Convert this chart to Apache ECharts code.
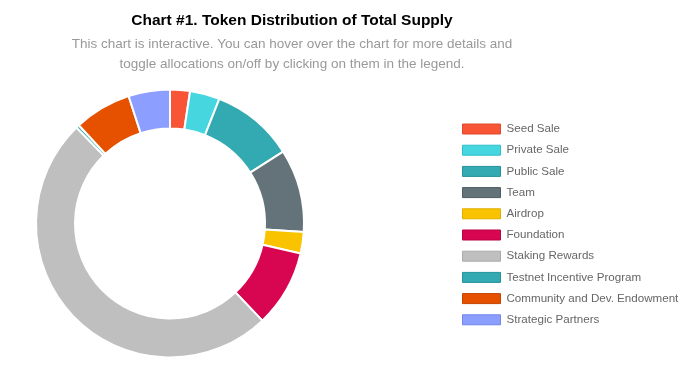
<!DOCTYPE html>
<html><head><meta charset="utf-8">
<script src="https://cdn.jsdelivr.net/npm/echarts@6/dist/echarts.min.js"></script>
<style>html,body{margin:0;padding:0;background:#fff}#c{width:700px;height:390px}</style>
</head><body><div id="c"></div>
<script>
const categories = ["Seed Sale","Private Sale","Public Sale","Team","Airdrop","Foundation","Staking Rewards","Testnet Incentive Program","Community and Dev. Endowment","Strategic Partners"];
const values = [2.4, 3.6, 10, 10, 2.6, 9.3, 49.8, 0.4, 6.9, 5.0];
const colors = ["#f75535","#45d6e0","#33aab2","#647279","#f9c300","#d80650","#bfbfbf","#33aab2","#e65100","#8c9eff"];
const borders = ["#e04a2c","#2fc0ca","#24929a","#4e5b61","#e0ae00","#b80443","#aaaaaa","#24929a","#c44500","#7285e6"];

const chart = echarts.init(document.getElementById('c'));
chart.setOption({
  animation: false,
  title: {
    text: "Chart #1. Token Distribution of Total Supply",
    subtext: "This chart is interactive. You can hover over the chart for more details and\ntoggle allocations on/off by clicking on them in the legend.",
    left: 287, top: 8, textAlign: 'center', itemGap: 6,
    textStyle: {fontFamily: 'Liberation Sans', fontSize: 15.5, fontWeight: 'bold', color: '#000'},
    subtextStyle: {fontFamily: 'Liberation Sans', fontSize: 13.5, color: '#999', lineHeight: 19.5, align: 'center'}
  },
  legend: {
    orient: 'vertical', left: 462, top: 123, padding: 0,
    itemWidth: 38, itemHeight: 10, itemGap: 9.2,
    icon: 'rect',
    textStyle: {fontFamily: 'Liberation Sans', fontSize: 11.6, color: '#666', padding: [0,0,0,1]},
    data: categories.map((n, i) => ({name: n, itemStyle: {color: colors[i], borderColor: borders[i], borderWidth: 1}}))
  },
  series: [{
    type: 'pie',
    center: [170, 223.5],
    radius: [95, 134],
    startAngle: 90,
    clockwise: true,
    label: {show: false},
    labelLine: {show: false},
    itemStyle: {borderColor: '#fff', borderWidth: 2},
    data: categories.map((n, i) => ({name: n, value: values[i], itemStyle: {color: colors[i]}}))
  }]
});
</script></body></html>
